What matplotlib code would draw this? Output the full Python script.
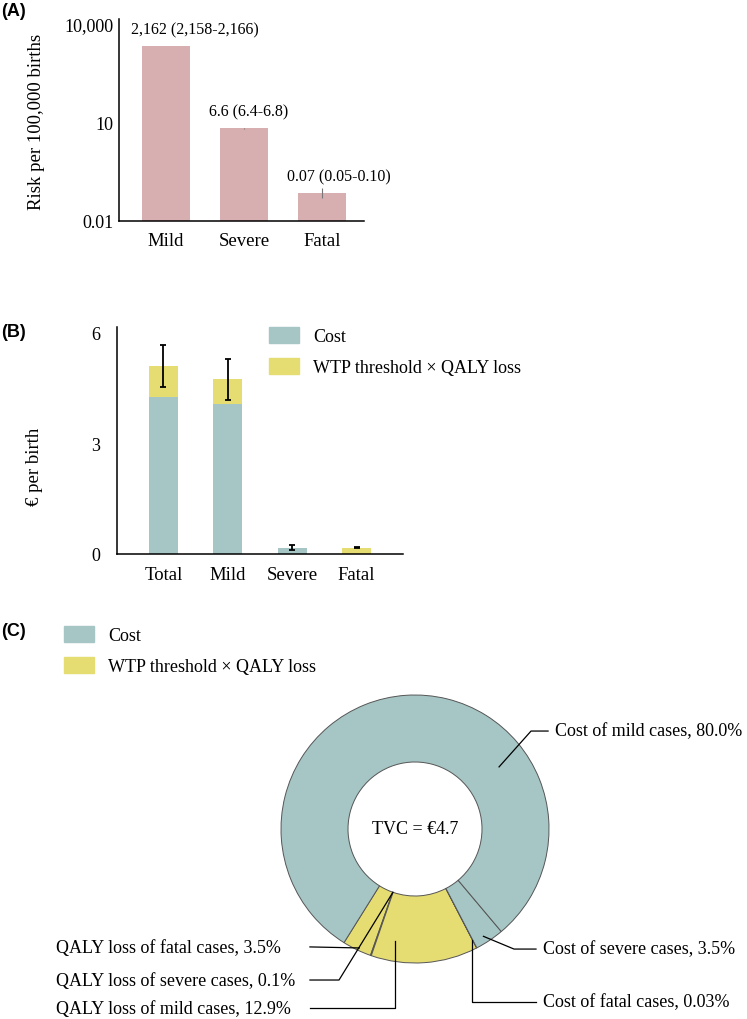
import matplotlib
matplotlib.use('Agg')
import matplotlib.pyplot as plt
import numpy as np
from matplotlib.patches import Patch

plt.rcParams['font.family'] = ['Liberation Serif', 'DejaVu Serif']
plt.rcParams['font.size'] = 13

# Panel A: risk per 100,000 births
severity = ['Mild', 'Severe', 'Fatal']
risk = [2162, 6.6, 0.07]
risk_low = [2158, 6.4, 0.05]
risk_high = [2166, 6.8, 0.10]
risk_labels = ['2,162 (2,158-2,166)', '6.6 (6.4-6.8)', '0.07 (0.05-0.10)']
risk_ticks = [0.01, 10, 10000]
risk_tick_labels = ['0.01', '10', '10,000']

# Panel B: euro per birth
groups = ['Total', 'Mild', 'Severe', 'Fatal']
cost = [4.25, 4.06, 0.17, 0.0]
qaly_value = [0.85, 0.68, 0.0, 0.17]
tvc_low = [4.52, 4.17, 0.11, 0.15]
tvc_high = [5.67, 5.29, 0.25, 0.19]
euro_ticks = [0, 3, 6]

# Panel C: share of total value of cost
slice_names = ['QALY loss of fatal cases', 'QALY loss of severe cases',
               'QALY loss of mild cases', 'Cost of fatal cases',
               'Cost of severe cases', 'Cost of mild cases']
slice_pct = [3.5, 0.1, 12.9, 0.03, 3.5, 80.0]
slice_pct_text = ['3.5%', '0.1%', '12.9%', '0.03%', '3.5%', '80.0%']
slice_kind = ['qaly', 'qaly', 'qaly', 'cost', 'cost', 'cost']
tvc_total = 4.7

PINK = '#d8afb0'
TEAL = '#a6c6c5'
YELLOW = '#e5dc72'
W, H = 747, 1020


def px(left, top, right, bottom):
    return [left / W, 1 - bottom / H, (right - left) / W, (bottom - top) / H]


fig = plt.figure(figsize=(W / 100, H / 100), dpi=100)

# ---- (A)
ax = fig.add_axes(px(119, 20, 364, 222))
x = np.arange(len(severity))
ax.set_yscale('log')
ax.bar(x, risk, width=0.62, color=PINK)
yerr = [np.array(risk) - np.array(risk_low), np.array(risk_high) - np.array(risk)]
ax.errorbar(x, risk, yerr=yerr, fmt='none', ecolor='#777777', elinewidth=0.8, capsize=0)
for i, lab in enumerate(risk_labels):
    ax.annotate(lab, xy=(i, risk[i]), xytext=(-25, 12), textcoords='offset points',
                ha='left', va='center', fontsize=11.5)
ax.set_xlim(-0.6, 2.54)
ax.set_ylim(0.01, 14000)
ax.set_yticks(risk_ticks)
ax.set_yticklabels(risk_tick_labels)
ax.minorticks_off()
ax.set_xticks(x)
ax.set_xticklabels(severity)
ax.tick_params(axis='y', length=0, pad=4, labelsize=13)
ax.tick_params(axis='x', length=0, pad=8, labelsize=13.5)
ax.spines[['top', 'right']].set_visible(False)
ax.spines[['left', 'bottom']].set_linewidth(1.1)
ax.set_ylabel('Risk per 100,000 births', fontsize=13.5)
ax.yaxis.set_label_coords(-0.30, 0.495)
fig.text(1 / W, 1 - 12 / H, '(A)', family='Liberation Sans', weight='bold',
         fontsize=13, va='center', ha='left')

# ---- (B)
bx = fig.add_axes(px(117, 328, 403, 555))
xb = np.arange(len(groups))
bx.bar(xb, cost, width=0.45, color=TEAL)
bx.bar(xb, qaly_value, width=0.45, bottom=cost, color=YELLOW)
tops = np.array(cost) + np.array(qaly_value)
yerr_b = [tops - np.array(tvc_low), np.array(tvc_high) - tops]
bx.errorbar(xb, tops, yerr=yerr_b, fmt='none', ecolor='black', elinewidth=1.3,
            capsize=2, capthick=1.3)
bx.set_xlim(-0.72, 3.72)
bx.set_ylim(0, 6.16)
bx.set_yticks(euro_ticks)
bx.set_xticks(xb)
bx.set_xticklabels(groups)
bx.tick_params(axis='y', length=0, pad=12, labelsize=13)
bx.tick_params(axis='x', length=0, pad=9, labelsize=13.5)
bx.spines[['top', 'right']].set_visible(False)
bx.spines[['left', 'bottom']].set_linewidth(1.1)
bx.set_ylabel('€ per birth', fontsize=13.5)
bx.yaxis.set_label_coords(-0.26, 0.39)
handles = [Patch(color=TEAL, label='Cost'),
           Patch(color=YELLOW, label='WTP threshold × QALY loss')]
fig.legend(handles=handles, loc='upper left', bbox_to_anchor=(269 / W, 1 - 328 / H),
           frameon=False, borderpad=0, borderaxespad=0, handlelength=1.65,
           handleheight=1.0, handletextpad=0.8, labelspacing=0.7, fontsize=13)
fig.text(1 / W, 1 - 333 / H, '(B)', family='Liberation Sans', weight='bold',
         fontsize=13, va='center', ha='left')

# ---- (C)
cx = fig.add_axes([0, 0, 1, 420 / H])
colors = [YELLOW if k == 'qaly' else TEAL for k in slice_kind]
wedges, _ = cx.pie(slice_pct, colors=colors, startangle=238, counterclock=True,
                   radius=1, wedgeprops=dict(width=0.5, edgecolor='#555555', linewidth=0.7))
cx.text(0, 0, 'TVC = €%.1f' % tvc_total, ha='center', va='center', fontsize=13)

# leader layout: where on the wedge, elbow, end of line, text position
leaders = [
    dict(frac=0.55, r=0.98, elbow=None, end=(-0.784, -0.88), text=(-2.68, -0.888), ha='left'),
    dict(frac=0.5, r=0.5, elbow=(-0.567, -1.127), end=(-0.784, -1.127), text=(-2.68, -1.127), ha='left'),
    dict(frac=0.19, r=0.85, elbow=(None, -1.336), end=(-0.784, -1.336), text=(-2.68, -1.336), ha='left'),
    dict(frac=0.5, r=0.93, elbow=(None, -1.291), end=(0.903, -1.291), text=(0.955, -1.291), ha='left'),
    dict(frac=0.4, r=0.95, elbow=(0.739, -0.896), end=(0.903, -0.896), text=(0.955, -0.896), ha='left'),
    dict(frac=0.30, r=0.78, elbow=(0.866, 0.731), end=(0.993, 0.731), text=(1.045, 0.731), ha='left'),
]
for w, name, pct, ld in zip(wedges, slice_names, slice_pct_text, leaders):
    ang = np.deg2rad(w.theta1 + ld['frac'] * (w.theta2 - w.theta1))
    ax0, ay0 = ld['r'] * np.cos(ang), ld['r'] * np.sin(ang)
    xs, ys = [ax0], [ay0]
    if ld['elbow'] is not None:
        ex, ey = ld['elbow']
        xs.append(ax0 if ex is None else ex)
        ys.append(ey)
    xs.append(ld['end'][0])
    ys.append(ld['end'][1])
    cx.plot(xs, ys, color='black', lw=0.9, clip_on=False)
    cx.text(ld['text'][0], ld['text'][1], '%s, %s' % (name, pct), ha=ld['ha'],
            va='center', fontsize=13)

cx.set_aspect('equal')
cx.set_xlim(-415 / 134, (W - 415) / 134)
cx.set_ylim(-190 / 134, 230 / 134)
cx.axis('off')
fig.legend(handles=handles, loc='upper left', bbox_to_anchor=(64 / W, 1 - 627 / H),
           frameon=False, borderpad=0, borderaxespad=0, handlelength=1.65,
           handleheight=1.0, handletextpad=0.8, labelspacing=0.7, fontsize=13)
fig.text(1 / W, 1 - 632 / H, '(C)', family='Liberation Sans', weight='bold',
         fontsize=13, va='center', ha='left')

fig.savefig('out.png', dpi=100)
